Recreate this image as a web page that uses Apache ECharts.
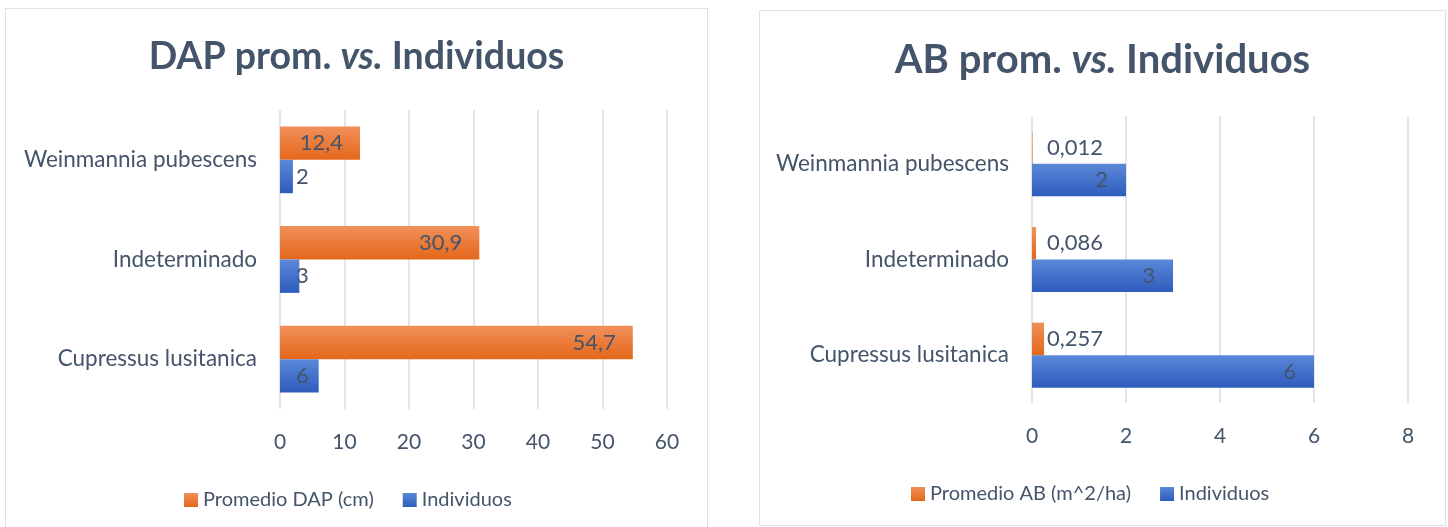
<!DOCTYPE html>
<html>
<head>
<meta charset="utf-8">
<script src="https://cdn.jsdelivr.net/npm/echarts@6/dist/echarts.min.js"></script>
<style>
  html, body { margin: 0; padding: 0; background: #fff; width: 1448px; height: 527px; overflow: hidden; }
  .panel { position: absolute; border: 1.5px solid #dfe1e5; box-sizing: border-box; }
  .panel > div { width: 100%; height: 100%; }
  #p1 { left: 5px; top: 8px; width: 703px; height: 540px; }
  #p2 { left: 759px; top: 10px; width: 687px; height: 516px; }
</style>
</head>
<body>
<div class="panel" id="p1"><div id="c1"></div></div>
<div class="panel" id="p2"><div id="c2"></div></div>
<script>
// especies (de abajo hacia arriba)
const categories = ['Cupressus lusitanica', 'Indeterminado', 'Weinmannia pubescens']
const dapProm = [54.7, 30.9, 12.4]
const abProm = [0.257, 0.086, 0.012]
const individuos = [6, 3, 2]
const dapTicks = { min: 0, max: 60, interval: 10 }
const abTicks = { min: 0, max: 8, interval: 2 }

const FONT = 'Lato'
const TXT = '#44546a'

const orange = new echarts.graphic.LinearGradient(0, 0, 0, 1, [
  { offset: 0, color: '#f1905a' },
  { offset: 1, color: '#e4671a' }
])
const blue = new echarts.graphic.LinearGradient(0, 0, 0, 1, [
  { offset: 0, color: '#5b88d8' },
  { offset: 1, color: '#2d5cbd' }
])

const coma = (p) => String(p.value).replace('.', ',')

function buildOption(cfg) {
  return {
    animation: false,
    textStyle: { fontFamily: FONT },
    title: {
      text: '{b|' + cfg.title + ' }{i|vs.}{b| Individuos}',
      left: 'center',
      top: cfg.titleTop,
      textStyle: {
        rich: {
          b: { fontFamily: FONT, fontWeight: 'bold', fontSize: cfg.titleSize, color: TXT },
          i: { fontFamily: FONT, fontWeight: 'bold', fontStyle: 'italic', fontSize: cfg.titleSize, color: TXT }
        }
      }
    },
    legend: {
      left: cfg.legendLeft,
      top: cfg.legendTop,
      icon: 'rect',
      itemWidth: 14,
      itemHeight: 14,
      itemGap: 29,
      textStyle: { fontFamily: FONT, fontSize: 20, color: TXT },
      data: [cfg.serie, 'Individuos']
    },
    grid: cfg.grid,
    xAxis: {
      type: 'value',
      min: cfg.ticks.min,
      max: cfg.ticks.max,
      interval: cfg.ticks.interval,
      axisLine: { show: false },
      axisTick: { show: false },
      axisLabel: { color: TXT, fontSize: 21, fontFamily: FONT, margin: 23 },
      splitLine: { lineStyle: { color: '#d9dde4', width: 1.5 } }
    },
    yAxis: {
      type: 'category',
      data: categories,
      axisLine: { show: false },
      axisTick: { show: false },
      axisLabel: { color: TXT, fontSize: 22.5, fontFamily: FONT, margin: 23 }
    },
    series: [
      {
        name: cfg.serie,
        type: 'bar',
        data: cfg.values,
        barCategoryGap: cfg.gap,
        barGap: '0%',
        itemStyle: { color: orange },
        label: {
          show: true,
          position: cfg.orangePos,
          distance: cfg.orangeDist,
          color: TXT,
          fontSize: 22,
          fontFamily: FONT,
          formatter: coma
        }
      },
      {
        name: 'Individuos',
        type: 'bar',
        data: individuos,
        barCategoryGap: cfg.gap,
        barGap: '0%',
        itemStyle: { color: blue },
        label: {
          show: true,
          position: cfg.bluePos,
          distance: cfg.blueDist,
          color: TXT,
          fontSize: 22,
          fontFamily: FONT,
          formatter: coma
        }
      }
    ]
  }
}

const chart1 = echarts.init(document.getElementById('c1'))
chart1.setOption(buildOption({
  title: 'DAP prom.',
  titleTop: 24,
  titleSize: 37.5,
  serie: 'Promedio DAP (cm)',
  values: dapProm,
  ticks: dapTicks,
  grid: { left: 274, width: 387, top: 101, height: 299 },
  gap: '33%',
  orangePos: 'insideRight', orangeDist: 17,
  bluePos: 'insideLeft', blueDist: 16,
  legendLeft: 173,
  legendTop: 476
}))

const chart2 = echarts.init(document.getElementById('c2'))
chart2.setOption(buildOption({
  title: 'AB prom.',
  titleTop: 24,
  titleSize: 40,
  serie: 'Promedio AB (m^2/ha)',
  values: abProm,
  ticks: abTicks,
  grid: { left: 272, width: 376, top: 105, height: 287 },
  gap: '32%',
  orangePos: 'insideLeft', orangeDist: 15,
  bluePos: 'insideRight', blueDist: 18,
  legendLeft: 146,
  legendTop: 468
}))
</script>
</body>
</html>
